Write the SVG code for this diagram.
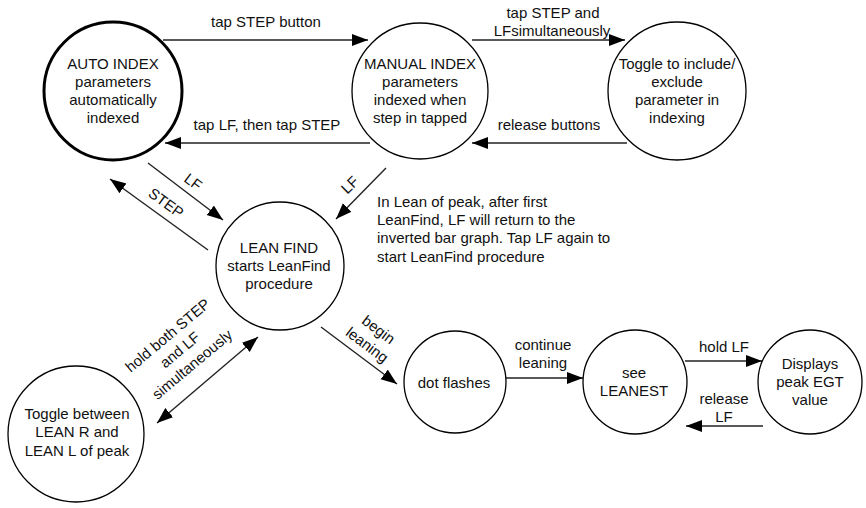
<svg xmlns="http://www.w3.org/2000/svg" width="866" height="508" viewBox="0 0 866 508">
<defs>
<marker id="ah" markerUnits="userSpaceOnUse" markerWidth="17" markerHeight="13" refX="16" refY="6" orient="auto-start-reverse">
<path d="M0,0 L16,6 L0,12 z" fill="#000"/>
</marker>
<style>
.n{fill:#fff;stroke:#000;stroke-width:1.3}
.bold{stroke-width:3}
text{font-family:"Liberation Sans",Arial,sans-serif;font-size:15px;fill:#111}
.c{text-anchor:middle}
.e{fill:none;stroke:#222;stroke-width:1.4;marker-end:url(#ah)}
.d{marker-start:url(#ah)}
</style>
</defs>
<rect width="866" height="508" fill="#fff"/>
<g id="connectors">
<line class="e" x1="163" y1="40" x2="368" y2="40"/>
<text class="c" x="266" y="27">tap STEP button</text>
<line class="e" x1="472" y1="40" x2="625" y2="40"/>
<text class="c" x="553" y="18">tap STEP and</text>
<text class="c" x="552" y="36">LFsimultaneously</text>
<line class="e" x1="627" y1="143" x2="472" y2="143"/>
<text class="c" x="549" y="130">release buttons</text>
<line class="e" x1="370" y1="143" x2="165" y2="143"/>
<text class="c" x="267" y="130">tap LF, then tap STEP</text>
<line class="e" x1="148" y1="163" x2="223" y2="220"/>
<text class="c" transform="translate(193,182) rotate(37)" y="5">LF</text>
<line class="e" x1="208" y1="250" x2="110" y2="179"/>
<text class="c" transform="translate(166,203) rotate(36)" y="5">STEP</text>
<line class="e" x1="386" y1="168" x2="336" y2="219"/>
<text class="c" transform="translate(350,185) rotate(-45)" y="5">LF</text>
<line class="e d" x1="157" y1="423" x2="258" y2="337"/>
<g transform="translate(180,350) rotate(-40)">
<text class="c" y="-14">hold both STEP</text>
<text class="c" y="5">and LF</text>
<text class="c" y="24">simultaneously</text>
</g>
<line class="e" x1="321" y1="327" x2="397" y2="384"/>
<g transform="translate(373,337) rotate(37)">
<text class="c" y="-4">begin</text>
<text class="c" y="15">leaning</text>
</g>
<line class="e" x1="506" y1="378" x2="583" y2="378"/>
<text class="c" x="543" y="350">continue</text>
<text class="c" x="543" y="368">leaning</text>
<line class="e" x1="685" y1="361" x2="762" y2="361"/>
<text class="c" x="724" y="352">hold LF</text>
<line class="e" x1="763" y1="426" x2="686" y2="426"/>
<text class="c" x="724" y="404">release</text>
<text class="c" x="724" y="422">LF</text>
</g>
<g id="note">
<text x="377" y="207">In Lean of peak, after first</text>
<text x="377" y="225">LeanFind, LF will return to the</text>
<text x="377" y="243">inverted bar graph. Tap LF again to</text>
<text x="377" y="262">start LeanFind procedure</text>
</g>
<g id="auto-index">
<circle class="n bold" cx="113" cy="91" r="69"/>
<text class="c" x="113" y="69">AUTO INDEX</text>
<text class="c" x="113" y="87">parameters</text>
<text class="c" x="113" y="105">automatically</text>
<text class="c" x="113" y="123">indexed</text>
</g>
<g id="manual-index">
<circle class="n" cx="420" cy="91" r="68"/>
<text class="c" x="420" y="69">MANUAL INDEX</text>
<text class="c" x="420" y="87">parameters</text>
<text class="c" x="420" y="105">indexed when</text>
<text class="c" x="420" y="123">step in tapped</text>
</g>
<g id="toggle-include">
<circle class="n" cx="677" cy="91" r="69"/>
<text class="c" x="677" y="69">Toggle to include/</text>
<text class="c" x="677" y="87">exclude</text>
<text class="c" x="677" y="105">parameter in</text>
<text class="c" x="677" y="123">indexing</text>
</g>
<g id="lean-find">
<circle class="n" cx="280" cy="266" r="64"/>
<text class="c" x="279" y="253">LEAN FIND</text>
<text class="c" x="279" y="271">starts LeanFind</text>
<text class="c" x="279" y="289">procedure</text>
</g>
<g id="toggle-lean">
<circle class="n" cx="76" cy="434" r="68"/>
<text class="c" x="77" y="419">Toggle between</text>
<text class="c" x="77" y="437">LEAN R and</text>
<text class="c" x="77" y="456">LEAN L of peak</text>
</g>
<g id="dot-flashes">
<circle class="n" cx="455" cy="382" r="51"/>
<text class="c" x="454" y="388">dot flashes</text>
</g>
<g id="see-leanest">
<circle class="n" cx="635" cy="382" r="52"/>
<text class="c" x="634" y="378">see</text>
<text class="c" x="634" y="396">LEANEST</text>
</g>
<g id="peak-egt">
<circle class="n" cx="810" cy="382" r="52"/>
<text class="c" x="810" y="369">Displays</text>
<text class="c" x="810" y="387">peak EGT</text>
<text class="c" x="810" y="405">value</text>
</g>
</svg>
